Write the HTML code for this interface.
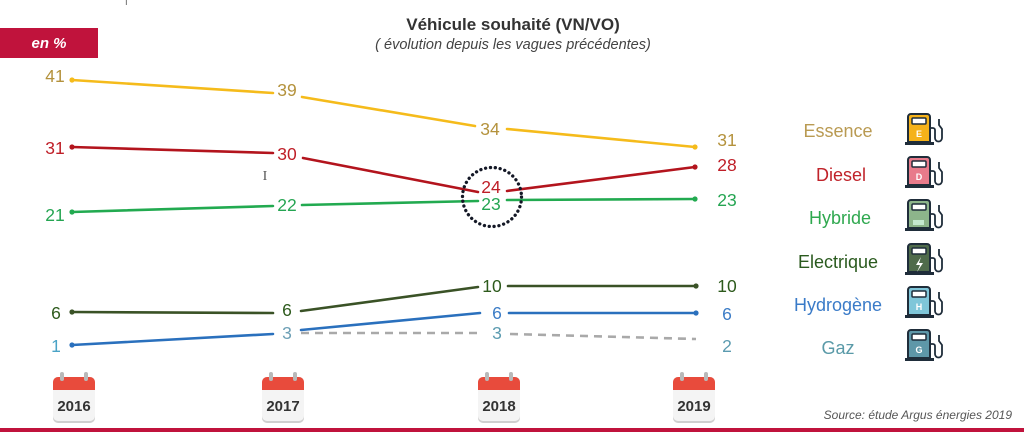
<!DOCTYPE html>
<html><head><meta charset="utf-8"><style>
html,body{margin:0;padding:0;background:#fff;}
body{width:1024px;height:432px;overflow:hidden;position:relative;font-family:"Liberation Sans",sans-serif;}
</style></head><body>
<svg width="1024" height="432" viewBox="0 0 1024 432" xmlns="http://www.w3.org/2000/svg" style="position:absolute;left:0;top:0;font-family:'Liberation Sans',sans-serif;">
<defs>
<g id="cal">
<rect x="-21" y="4" width="42" height="46" rx="5" fill="#cfcfcf"/>
<rect x="-21" y="4" width="42" height="44" rx="5" fill="#f4f4f4"/>
<path d="M-21 17 V9 a5 5 0 0 1 5 -5 H16 a5 5 0 0 1 5 5 V17 Z" fill="#e84b3c"/>
<rect x="-14" y="-1" width="4" height="9" rx="2" fill="#b9b9b9"/>
<rect x="10" y="-1" width="4" height="9" rx="2" fill="#b9b9b9"/>
</g>
<g id="pump">
<rect x="-2" y="29" width="29" height="3" fill="#1f2d3a"/>
<path d="M1 29 V4 a3 3 0 0 1 3 -3 H20 a3 3 0 0 1 3 3 V29 Z" stroke="#1f2d3a" stroke-width="2"/>
<rect x="5" y="5" width="14" height="6" rx="1" fill="#fff" stroke="#1f2d3a" stroke-width="1.5"/>
<path d="M23 15 h3 a2 2 0 0 1 2 2 v8 a3.5 3.5 0 0 0 7 0 v-9 l-3 -4 v-6" fill="none" stroke="#1f2d3a" stroke-width="1.8"/>
</g>
</defs>

<!-- top cut text -->
<text x="125" y="3" font-size="10" fill="#555">|</text>

<!-- badge -->
<rect x="0" y="28" width="98" height="30" fill="#c0133c"/>
<text x="49" y="48" font-size="15" font-weight="bold" font-style="italic" fill="#fff" text-anchor="middle">en %</text>

<!-- title -->
<text x="513" y="30" font-size="17" font-weight="bold" fill="#333" text-anchor="middle">Véhicule souhaité (VN/VO)</text>
<text x="513" y="49" font-size="14.5" font-style="italic" fill="#444" text-anchor="middle">( évolution depuis les vagues précédentes)</text>

<!-- lines -->
<g fill="none" stroke-width="2.6" stroke-linecap="round">
<polyline points="72,80 273,93" stroke="#f5bb1b"/>
<polyline points="302,97 475,126" stroke="#f5bb1b"/>
<polyline points="507,129 695,147" stroke="#f5bb1b"/>
<polyline points="72,147 273,153" stroke="#b3141d"/>
<polyline points="303,158 478,192" stroke="#b3141d"/>
<polyline points="507,191 695,167" stroke="#b3141d"/>
<polyline points="72,212 273,206" stroke="#22aa50"/>
<polyline points="302,205 478,201" stroke="#22aa50"/>
<polyline points="507,200 695,199" stroke="#22aa50"/>
<polyline points="72,312 273,313" stroke="#3a5226"/>
<polyline points="301,311 478,287" stroke="#3a5226"/>
<polyline points="508,286 696,286" stroke="#3a5226"/>
<polyline points="72,345 273,334" stroke="#2a70bd"/>
<polyline points="301,330 480,313" stroke="#2a70bd"/>
<polyline points="509,313 696,313" stroke="#2a70bd"/>
<polyline points="301,333 483,333" stroke="#a9a9a9" stroke-dasharray="8,6" stroke-linecap="butt"/>
<polyline points="510,334 696,339" stroke="#a9a9a9" stroke-dasharray="8,6" stroke-linecap="butt"/>
</g>
<g>
<circle cx="72" cy="80" r="2.6" fill="#f5bb1b"/>
<circle cx="72" cy="147" r="2.6" fill="#b3141d"/>
<circle cx="72" cy="212" r="2.6" fill="#22aa50"/>
<circle cx="72" cy="312" r="2.6" fill="#3a5226"/>
<circle cx="72" cy="345" r="2.6" fill="#2a70bd"/>
<circle cx="695" cy="147" r="2.6" fill="#f5bb1b"/>
<circle cx="695" cy="167" r="2.6" fill="#b3141d"/>
<circle cx="695" cy="199" r="2.6" fill="#22aa50"/>
<circle cx="696" cy="286" r="2.6" fill="#3a5226"/>
<circle cx="696" cy="313" r="2.6" fill="#2a70bd"/>
</g>

<!-- dotted circle -->
<circle cx="492" cy="197" r="29.5" fill="none" stroke="#141826" stroke-width="3.3" stroke-dasharray="0.1,4.8" stroke-linecap="round"/>

<!-- value labels -->
<g font-size="17.5" text-anchor="middle">
<g fill="#b4923c">
<text x="55" y="82">41</text>
<text x="287" y="96">39</text>
<text x="490" y="135">34</text>
<text x="727" y="146">31</text>
</g>
<g fill="#bf1e27">
<text x="55" y="154">31</text>
<text x="287" y="160">30</text>
<text x="491" y="193">24</text>
<text x="727" y="171">28</text>
</g>
<g fill="#25a552">
<text x="55" y="221">21</text>
<text x="287" y="211">22</text>
<text x="491" y="210">23</text>
<text x="727" y="206">23</text>
</g>
<g fill="#2d5a1c">
<text x="56" y="319">6</text>
<text x="287" y="316">6</text>
<text x="492" y="292">10</text>
<text x="727" y="292">10</text>
</g>
<g fill="#3b7cc6">
<text x="497" y="319">6</text>
<text x="727" y="320">6</text>
</g>
<text x="56" y="352" fill="#4aa3c6">1</text>
<text x="287" y="339" fill="#6c9fb5">3</text>
<g fill="#5b9bb0">
<text x="497" y="339">3</text>
<text x="727" y="352">2</text>
</g>
</g>

<!-- cursor -->
<text x="265" y="180" font-size="14" fill="#555" text-anchor="middle" font-family="Liberation Serif,serif">I</text>

<!-- calendars -->
<g font-size="15" font-weight="bold" fill="#333" text-anchor="middle">
<use href="#cal" x="74" y="373"/>
<text x="74" y="411">2016</text>
<use href="#cal" x="283" y="373"/>
<text x="283" y="411">2017</text>
<use href="#cal" x="499" y="373"/>
<text x="499" y="411">2018</text>
<use href="#cal" x="694" y="373"/>
<text x="694" y="411">2019</text>
</g>

<!-- legend -->
<g font-size="18" text-anchor="middle">
<text x="838" y="137" fill="#b99a52">Essence</text>
<text x="841" y="181" fill="#c0232a">Diesel</text>
<text x="840" y="224" fill="#2fa84f">Hybride</text>
<text x="838" y="268" fill="#2a5a1e">Electrique</text>
<text x="838" y="311" fill="#3a7bc8">Hydrogène</text>
<text x="838" y="354" fill="#5a9aa8">Gaz</text>
</g>
<g>
<use href="#pump" x="907" y="113" fill="#f5b21a"/>
<text x="919" y="137" font-size="9" fill="#fff" text-anchor="middle" font-weight="bold">E</text>
<use href="#pump" x="907" y="156" fill="#e87b8b"/>
<text x="919" y="180" font-size="9" fill="#fff" text-anchor="middle" font-weight="bold">D</text>
<use href="#pump" x="907" y="199" fill="#8db58b"/>
<rect x="913" y="220" width="11" height="5" fill="#dfe" opacity="0.7"/>
<use href="#pump" x="907" y="243" fill="#4f6b4b"/>
<path d="M921 257 l-5 8 h4 l-3 7 l6 -9 h-4 z" fill="#fff"/>
<use href="#pump" x="907" y="286" fill="#7fc6d9"/>
<text x="919" y="310" font-size="9" fill="#fff" text-anchor="middle" font-weight="bold">H</text>
<use href="#pump" x="907" y="329" fill="#5e97a8"/>
<text x="919" y="353" font-size="9" fill="#fff" text-anchor="middle" font-weight="bold">G</text>
</g>

<!-- source -->
<text x="1012" y="419" font-size="12" font-style="italic" fill="#555" text-anchor="end">Source: étude Argus énergies 2019</text>

<!-- bottom line -->
<rect x="0" y="428" width="1024" height="4" fill="#c0133c"/>
</svg>
</body></html>
